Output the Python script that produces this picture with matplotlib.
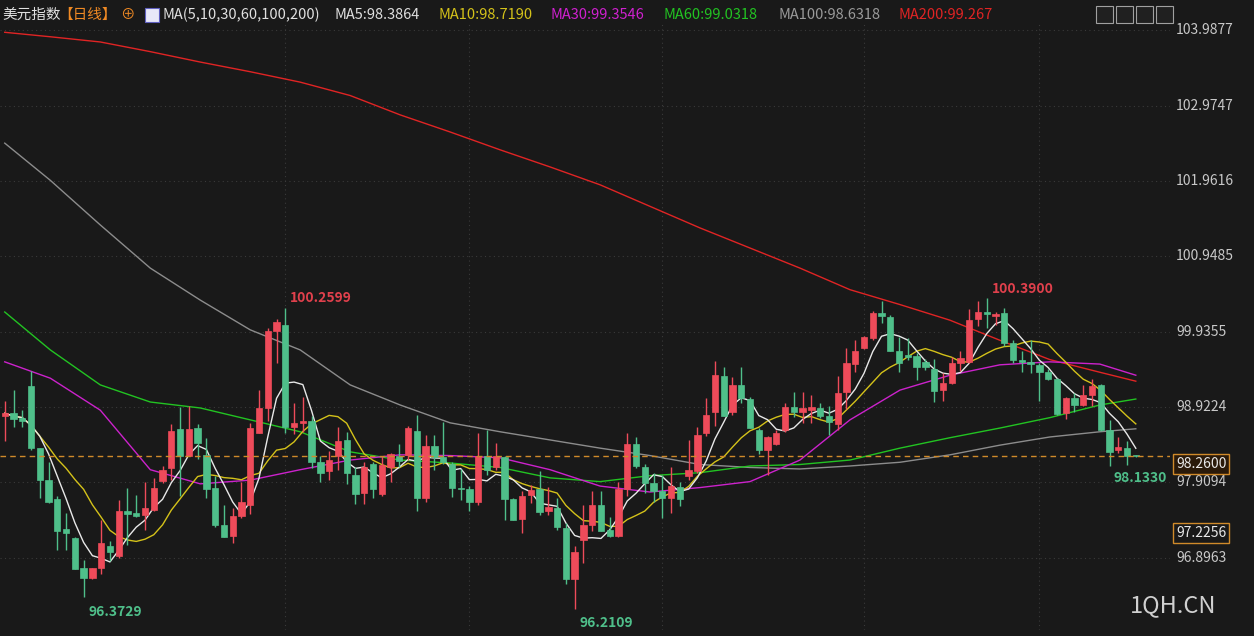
import numpy as np
import pandas as pd
import matplotlib
matplotlib.use("Agg")
import matplotlib.pyplot as plt
from matplotlib.patches import Rectangle

plt.rcParams["font.family"] = ["Noto Sans CJK SC", "DejaVu Sans"]

# daily candles (red = up, green = down)
opens = [98.80, 98.84, 98.77, 99.21, 98.37, 97.94, 97.69, 97.28, 97.16, 96.76,
         96.62, 96.76, 97.06, 96.92, 97.53, 97.50, 97.47, 97.54, 97.93, 98.10,
         98.63, 98.27, 98.64, 98.28, 97.83, 97.33, 97.19, 97.46, 97.60, 98.57,
         98.91, 99.94, 100.03, 98.65, 98.71, 98.73, 98.18, 98.06, 98.26, 98.48,
         98.01, 97.77, 98.15, 97.75, 98.12, 98.26, 98.28, 98.60, 97.70, 98.40,
         98.25, 98.15, 97.83, 97.82, 97.65, 98.27, 98.12, 98.25, 97.69, 97.42,
         97.74, 97.82, 97.52, 97.56, 97.30, 96.61, 97.13, 97.33, 97.61, 97.27,
         97.19, 97.82, 98.42, 98.11, 97.90, 97.79, 97.70, 97.85, 98.00, 98.06,
         98.57, 98.85, 99.34, 98.86, 99.22, 99.03, 98.62, 98.35, 98.43, 98.61,
         98.92, 98.85, 98.88, 98.91, 98.80, 98.70, 99.13, 99.50, 99.71, 99.85,
         100.18, 100.13, 99.68, 99.62, 99.61, 99.53, 99.44, 99.15, 99.24, 99.51,
         99.53, 100.10, 100.20, 100.15, 100.18, 99.79, 99.56, 99.53, 99.49, 99.40,
         99.30, 98.84, 99.04, 98.95, 99.09, 99.22, 98.62, 98.35, 98.37, 98.27]
closes = [98.84, 98.76, 98.74, 98.37, 97.94, 97.65, 97.26, 97.23, 96.75, 96.62,
          96.76, 97.09, 96.98, 97.53, 97.48, 97.46, 97.56, 97.83, 98.08, 98.60,
          98.27, 98.63, 98.44, 97.82, 97.33, 97.18, 97.46, 97.64, 98.64, 98.91,
          99.95, 100.06, 98.66, 98.71, 98.74, 98.19, 98.03, 98.21, 98.47, 98.03,
          97.75, 98.12, 97.82, 98.14, 98.29, 98.20, 98.64, 97.70, 98.40, 98.25,
          98.18, 97.83, 97.82, 97.65, 98.27, 98.08, 98.27, 97.69, 97.41, 97.73,
          97.81, 97.51, 97.58, 97.31, 96.61, 96.97, 97.33, 97.61, 97.26, 97.19,
          97.82, 98.42, 98.13, 97.90, 97.79, 97.70, 97.86, 97.68, 98.07, 98.55,
          98.82, 99.35, 98.80, 99.22, 99.04, 98.64, 98.34, 98.52, 98.58, 98.92,
          98.85, 98.91, 98.92, 98.80, 98.72, 99.11, 99.51, 99.68, 99.86, 100.18,
          100.14, 99.68, 99.52, 99.59, 99.46, 99.46, 99.14, 99.24, 99.51, 99.58,
          100.09, 100.20, 100.17, 100.17, 99.79, 99.55, 99.53, 99.50, 99.39, 99.30,
          98.83, 99.04, 98.95, 99.09, 99.21, 98.62, 98.32, 98.38, 98.26, 98.26]
highs = [99.00, 99.15, 98.88, 99.41, 98.37, 98.19, 97.72, 97.50, 97.18, 96.87,
         96.76, 97.41, 97.12, 97.67, 97.83, 97.74, 97.91, 97.97, 98.13, 98.69,
         98.92, 98.94, 98.69, 98.50, 97.99, 97.61, 97.56, 97.91, 98.71, 99.15,
         99.98, 100.10, 100.26, 98.97, 99.06, 98.80, 98.26, 98.33, 98.65, 98.59,
         98.12, 98.18, 98.19, 98.26, 98.30, 98.42, 98.67, 98.82, 98.54, 98.55,
         98.72, 98.18, 98.09, 97.86, 98.58, 98.62, 98.44, 98.27, 97.70, 97.79,
         97.88, 98.06, 97.85, 97.70, 97.36, 97.05, 97.60, 97.79, 97.80, 97.44,
         97.92, 98.58, 98.52, 98.15, 98.03, 98.01, 98.11, 97.92, 98.48, 98.65,
         99.04, 99.54, 99.46, 99.33, 99.46, 99.06, 98.64, 98.53, 98.61, 98.97,
         99.12, 99.12, 99.09, 98.98, 98.93, 99.34, 99.71, 99.82, 99.88, 100.21,
         100.35, 100.16, 99.87, 99.85, 99.65, 99.57, 99.57, 99.38, 99.60, 99.67,
         100.24, 100.35, 100.39, 100.20, 100.25, 99.82, 99.67, 99.82, 99.51, 99.44,
         99.31, 99.06, 99.11, 99.22, 99.30, 99.23, 98.75, 98.52, 98.46, 98.28]
lows = [98.46, 98.66, 98.66, 98.34, 97.70, 97.63, 97.00, 97.00, 96.75, 96.3729,
        96.61, 96.68, 96.85, 96.89, 97.07, 97.45, 97.27, 97.52, 97.90, 97.94,
        97.73, 98.26, 98.22, 97.70, 97.31, 97.18, 97.09, 97.43, 97.49, 98.57,
        98.73, 99.51, 98.58, 98.56, 98.59, 98.10, 97.91, 97.94, 98.08, 97.89,
        97.62, 97.62, 97.70, 97.73, 97.92, 98.12, 98.21, 97.53, 97.64, 98.08,
        98.15, 97.71, 97.67, 97.52, 97.60, 98.01, 98.08, 97.41, 97.41, 97.23,
        97.63, 97.47, 97.47, 97.27, 96.54, 96.2109, 96.82, 97.25, 97.26, 97.18,
        97.18, 97.72, 98.10, 97.77, 97.64, 97.43, 97.50, 97.59, 97.94, 98.04,
        98.53, 98.67, 98.80, 98.82, 98.98, 98.64, 98.29, 98.01, 98.41, 98.59,
        98.79, 98.71, 98.71, 98.77, 98.55, 98.62, 98.89, 99.40, 99.70, 99.83,
        100.05, 99.67, 99.39, 99.56, 99.28, 99.42, 98.99, 99.00, 99.23, 99.41,
        99.52, 100.01, 99.98, 100.03, 99.74, 99.52, 99.40, 99.38, 99.01, 99.29,
        98.82, 98.76, 98.86, 98.93, 98.94, 98.60, 98.133, 98.30, 98.14, 98.25]

# longer moving averages at sample days
ma_day = [0, 5.2, 10.9, 16.6, 22.3, 28, 33.7, 39.4, 45.1, 50.8, 56.5, 62.2,
          67.9, 73.6, 79.3, 85, 90.7, 96.4, 102.1, 107.8, 113.5, 119.2, 124.9, 129]
ma30 = [99.53, 99.31, 98.88, 98.08, 97.89, 97.94, 98.08, 98.21, 98.28, 98.27, 98.24, 98.08,
        97.86, 97.78, 97.84, 97.92, 98.21, 98.75, 99.15, 99.35, 99.49, 99.53, 99.50, 99.35]
ma60 = [100.20, 99.69, 99.22, 98.99, 98.91, 98.75, 98.59, 98.32, 98.21, 98.17, 98.11, 97.97,
        97.92, 98.00, 98.04, 98.13, 98.15, 98.21, 98.37, 98.51, 98.64, 98.78, 98.95, 99.03]
ma100 = [102.47, 101.97, 101.37, 100.79, 100.36, 99.96, 99.69, 99.22, 98.95, 98.71, 98.59, 98.48,
         98.37, 98.27, 98.15, 98.11, 98.09, 98.13, 98.18, 98.28, 98.41, 98.52, 98.59, 98.63]
ma200 = [103.96, 103.90, 103.83, 103.70, 103.56, 103.43, 103.29, 103.11, 102.85, 102.62, 102.38, 102.15,
         101.91, 101.62, 101.33, 101.06, 100.79, 100.50, 100.30, 100.09, 99.82, 99.56, 99.39, 99.27]

yticks = [103.9877, 102.9747, 101.9616, 100.9485, 99.9355, 98.9224, 97.9094, 96.8963]
vgrid_days = [32, 53, 75, 98, 118]
last_price = 98.26

BG = "#191919"
UP, DOWN = "#ee4b5a", "#4fbf8a"

fig = plt.figure(figsize=(12.54, 6.36), dpi=100, facecolor=BG)
ax = fig.add_axes([0, 0.01, 1170 / 1254, 0.955], facecolor=BG)
n = len(opens)
x = np.arange(n)
ax.set_xlim(-0.54, 132.9)
ax.set_ylim(95.93, 104.095)

for p in yticks:
    ax.axhline(p, color="#3a3a3a", lw=0.8, ls=(0, (1, 3)))
for d in vgrid_days:
    ax.axvline(d, color="#3a3a3a", lw=0.8, ls=(0, (1, 3)))

s = pd.Series(closes)
ma5 = s.rolling(5, min_periods=1).mean()
ma10 = s.rolling(10, min_periods=1).mean()
ax.plot(ma_day, ma200, color="#e02424", lw=1)
ax.plot(ma_day, ma100, color="#8c8c8c", lw=1)
ax.plot(ma_day, ma60, color="#22c322", lw=1)
ax.plot(ma_day, ma30, color="#cc22cc", lw=1)
ax.plot(x, ma10, color="#d4c21a", lw=1)
ax.plot(x, ma5, color="#e8e8e8", lw=1)

for i in range(n):
    o, c, h, l = opens[i], closes[i], highs[i], lows[i]
    col = UP if c >= o else DOWN
    ax.vlines(i, l, h, color=col, lw=1, zorder=3)
    lo, hi = min(o, c), max(o, c)
    ax.add_patch(Rectangle((i - 0.36, lo), 0.72, max(hi - lo, 0.015),
                           facecolor=col, edgecolor=col, lw=0.5, zorder=4))

ax.axhline(last_price, color="#d08a2a", lw=1, ls=(0, (4, 3)), zorder=5)

for sp in ax.spines.values():
    sp.set_visible(False)
ax.set_xticks([]); ax.set_yticks([])

# extreme labels
ax.text(32.5, 100.33, "100.2599", color="#e0404c", fontsize=10, fontweight="bold")
ax.text(9.5, 96.12, "96.3729", color="#4fbf8a", fontsize=10, fontweight="bold")
ax.text(65.5, 95.96, "96.2109", color="#4fbf8a", fontsize=10, fontweight="bold")
ax.text(112.6, 100.45, "100.3900", color="#e0404c", fontsize=10, fontweight="bold")
ax.text(126.5, 97.92, "98.1330", color="#4fbf8a", fontsize=10, fontweight="bold")

# right price axis
for p in yticks:
    yf = 0.01 + 0.955 * (p - 95.93) / (104.095 - 95.93)
    fig.text(1176 / 1254, yf, f"{p:.4f}", color="#c8c8c8", fontsize=10, va="center")
yf = 0.01 + 0.955 * (last_price - 95.93) / (104.095 - 95.93)
fig.text(1176 / 1254, yf - 0.012, f"{last_price:.4f}", color="#e8e8e8", fontsize=10, va="center",
         bbox=dict(boxstyle="square,pad=0.2", fc="#2a1a0a", ec="#d08a2a", lw=1))
yf = 0.01 + 0.955 * (97.2256 - 95.93) / (104.095 - 95.93)
fig.text(1176 / 1254, yf, "97.2256", color="#e8e8e8", fontsize=10, va="center",
         bbox=dict(boxstyle="square,pad=0.2", fc=BG, ec="#d08a2a", lw=1))
fig.text(1130 / 1254, 0.03, "1QH.CN", color="#d0d0d0", fontsize=17, va="bottom")

# header
hdr = [(2, "美元指数", "#e0e0e0"), (58, "【日线】", "#f08a24"), (120, "⊕", "#f08a24"),
       (163, "MA(5,10,30,60,100,200)", "#e0e0e0"), (335, "MA5:98.3864", "#e0e0e0"),
       (438, "MA10:98.7190", "#d4c21a"), (551, "MA30:99.3546", "#d020d0"),
       (664, "MA60:99.0318", "#22c322"), (778, "MA100:98.6318", "#9a9a9a"),
       (898, "MA200:99.267", "#e02424")]
for px, t, c in hdr:
    fig.text(px / 1254, 1 - 15 / 636, t, color=c, fontsize=10.5, va="center")
fig.patches.append(Rectangle((145 / 1254, 1 - 22 / 636), 14 / 1254, 14 / 636,
                             transform=fig.transFigure, fc="#e8e8f8", ec="#6060c0", lw=0.8))
for k in range(4):
    fig.patches.append(Rectangle(((1096 + 20 * k) / 1254, 1 - 23 / 636), 17 / 1254, 17 / 636,
                                 transform=fig.transFigure, fc="#202020", ec="#a0a0a0", lw=0.8))

fig.savefig("out.png", dpi=100, facecolor=BG)
